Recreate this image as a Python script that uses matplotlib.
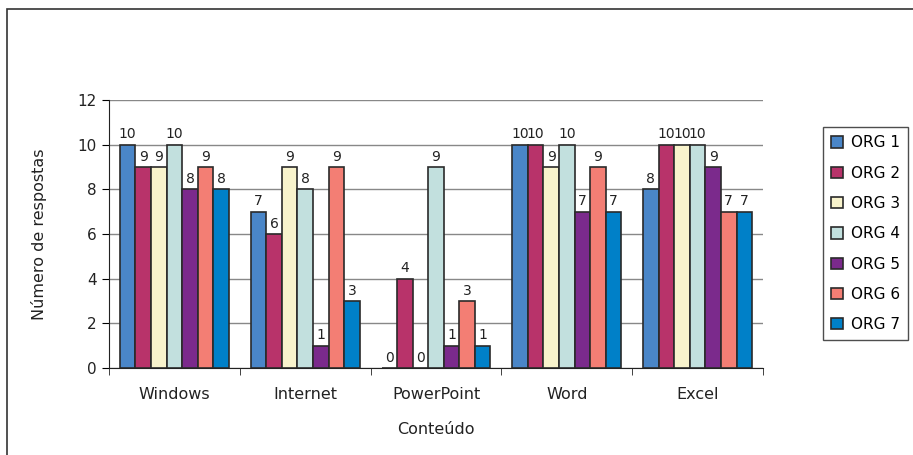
import numpy as np
import matplotlib
matplotlib.use("Agg")
import matplotlib.pyplot as plt
from matplotlib.patches import Rectangle

categories = ["Windows", "Internet", "PowerPoint", "Word", "Excel"]
series_names = ["ORG 1", "ORG 2", "ORG 3", "ORG 4", "ORG 5", "ORG 6", "ORG 7"]
org1 = [10, 7, 0, 10, 8]
org2 = [9, 6, 4, 10, 10]
org3 = [9, 9, 0, 9, 10]
org4 = [10, 8, 9, 10, 10]
org5 = [8, 1, 1, 7, 9]
org6 = [9, 9, 3, 9, 7]
org7 = [8, 3, 1, 7, 7]
series = [org1, org2, org3, org4, org5, org6, org7]
colors = ["#4A86C8", "#B8336A", "#F8F3CC", "#C2E0DE", "#7B2A8C", "#F37E74", "#0080C8"]

plt.rcParams['font.family'] = ['DejaVu Sans']
fig = plt.figure(figsize=(9.13, 4.55), dpi=100)
ax = fig.add_axes([109/913, 1-368/455, (763-109)/913, (368-100)/455])

x = np.arange(len(categories))
w = 0.119
for i, vals in enumerate(series):
    pos = x + (i - 3) * w
    bars = ax.bar(pos, vals, w, color=colors[i], edgecolor="#2a2a2a",
                  linewidth=1.2, label=series_names[i], zorder=3)
    for b, v in zip(bars, vals):
        ax.text(b.get_x() + b.get_width()/2, v + 0.15, str(v), ha="center",
                va="bottom", fontsize=10, color="#222222", zorder=4)

ax.set_xlim(-0.5, len(categories) - 0.5)
ax.set_ylim(0, 12)
ax.set_yticks(range(0, 13, 2))
ax.yaxis.grid(True, color="#888888", linewidth=1)
ax.set_axisbelow(True)
ax.set_xticks(x)
ax.set_xticklabels(categories, fontsize=11.5, color="#222222")
ax.set_xticks(np.arange(-0.5, len(categories)), minor=True)
ax.tick_params(axis="x", which="major", length=0, pad=14)
ax.tick_params(axis="x", which="minor", length=5, color="#222222")
ax.tick_params(axis="y", length=5, labelsize=11, labelcolor="#222222", pad=4)
for s in ["top", "right"]:
    ax.spines[s].set_visible(False)
ax.spines["left"].set_color("#222222")
ax.spines["bottom"].set_color("#222222")
ax.set_ylabel("Número de respostas", fontsize=11.5, color="#222222", labelpad=22)
ax.set_xlabel("Conteúdo", fontsize=11.5, color="#222222", labelpad=14)

leg = ax.legend(loc="upper left", bbox_to_anchor=(823/913, 1-127/455),
                bbox_transform=fig.transFigure, fontsize=11, frameon=True,
                fancybox=False, edgecolor="#222222", handlelength=0.75,
                handleheight=0.75, handletextpad=0.5, labelspacing=1.0,
                borderpad=0.55, borderaxespad=0)
leg.get_frame().set_linewidth(1)

fig.patches.append(Rectangle((7/913, -0.1), 1.2, 1.1 - 9/455, transform=fig.transFigure,
                             fill=False, edgecolor="#333333", linewidth=1.2))

fig.savefig("out.png", dpi=100)
